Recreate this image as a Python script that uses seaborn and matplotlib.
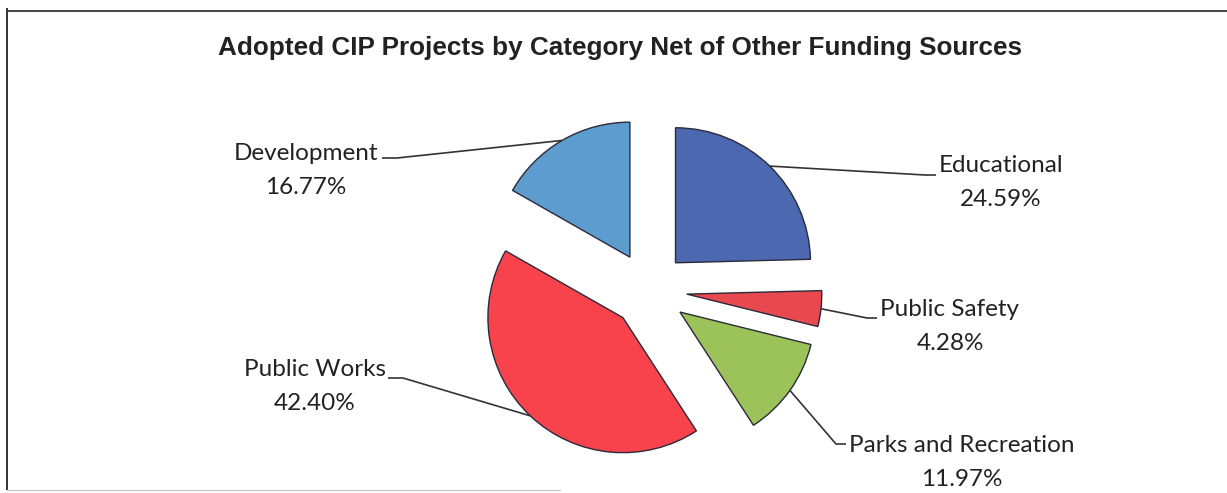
import numpy as np
import matplotlib
matplotlib.use("Agg")
import matplotlib.pyplot as plt
import seaborn as sns

# Data
categories = ["Educational", "Public Safety", "Parks and Recreation", "Public Works", "Development"]
shares = [24.59, 4.28, 11.97, 42.40, 16.77]
colors = ["#4b68b0", "#e8494f", "#9cc35a", "#f8434d", "#5c9ccf"]

sns.set_theme(style="white")
plt.rcParams["font.family"] = ["Lato", "DejaVu Sans"]

W, H = 1227, 493
fig = plt.figure(figsize=(W / 100, H / 100), dpi=100)
ax = fig.add_axes([0, 0, 1, 1])


def Y(y):
    """Convert a top-down pixel row into the y-up axes coordinate."""
    return H - y


radius = 135
center = (649, Y(290))
wedges, _ = ax.pie(shares, colors=colors, startangle=90, counterclock=False,
                   radius=radius, center=center, explode=[38] * len(shares),
                   wedgeprops=dict(edgecolor="#2a2a3a", linewidth=1.0),
                   frame=True)
ax.set_xlim(0, W)
ax.set_ylim(0, H)
ax.set_aspect("equal")
ax.axis("off")

# Outer frame of the chart area
ax.plot([7, 7], [Y(8), Y(490)], color="#333333", lw=1.4, solid_capstyle="butt")
ax.plot([7, W], [Y(11), Y(11)], color="#444444", lw=1.4, solid_capstyle="butt")
ax.plot([7, 560], [Y(490), Y(490)], color="#c8c8c8", lw=1.0)

ax.text(620, Y(55), "Adopted CIP Projects by Category Net of Other Funding Sources",
        ha="center", va="baseline", fontsize=18.8, fontweight="bold",
        family=["Liberation Sans", "DejaVu Sans"], color="#222222")

# Label placement: (text centre x, first-line y, elbow point, line end point)
label_layout = {
    "Educational": (1001, 166, (925, 175), (936, 175)),
    "Public Safety": (950, 309, (867, 318), (877, 318)),
    "Parks and Recreation": (962, 445, (836, 444), (846, 444)),
    "Public Works": (315, 369, (403, 378), (388, 378)),
    "Development": (306, 153, (397, 158), (382, 158)),
}

for w, name, val in zip(wedges, categories, shares):
    mid = np.deg2rad((w.theta1 + w.theta2) / 2)
    cx, cy = w.center
    ax0 = cx + w.r * np.cos(mid)
    ay0 = cy + w.r * np.sin(mid)
    tx, ty, elbow, end = label_layout[name]
    ax.plot([ax0, elbow[0], end[0]], [ay0, Y(elbow[1]), Y(end[1])],
            color="#333333", lw=1.2, solid_capstyle="butt")
    ax.text(tx, Y(ty), name, ha="center", va="center", fontsize=17.5, color="#222222")
    ax.text(tx, Y(ty + 34), f"{val:.2f}%", ha="center", va="center", fontsize=17.5,
            color="#222222")

fig.savefig("out.png", dpi=100, facecolor="white")
